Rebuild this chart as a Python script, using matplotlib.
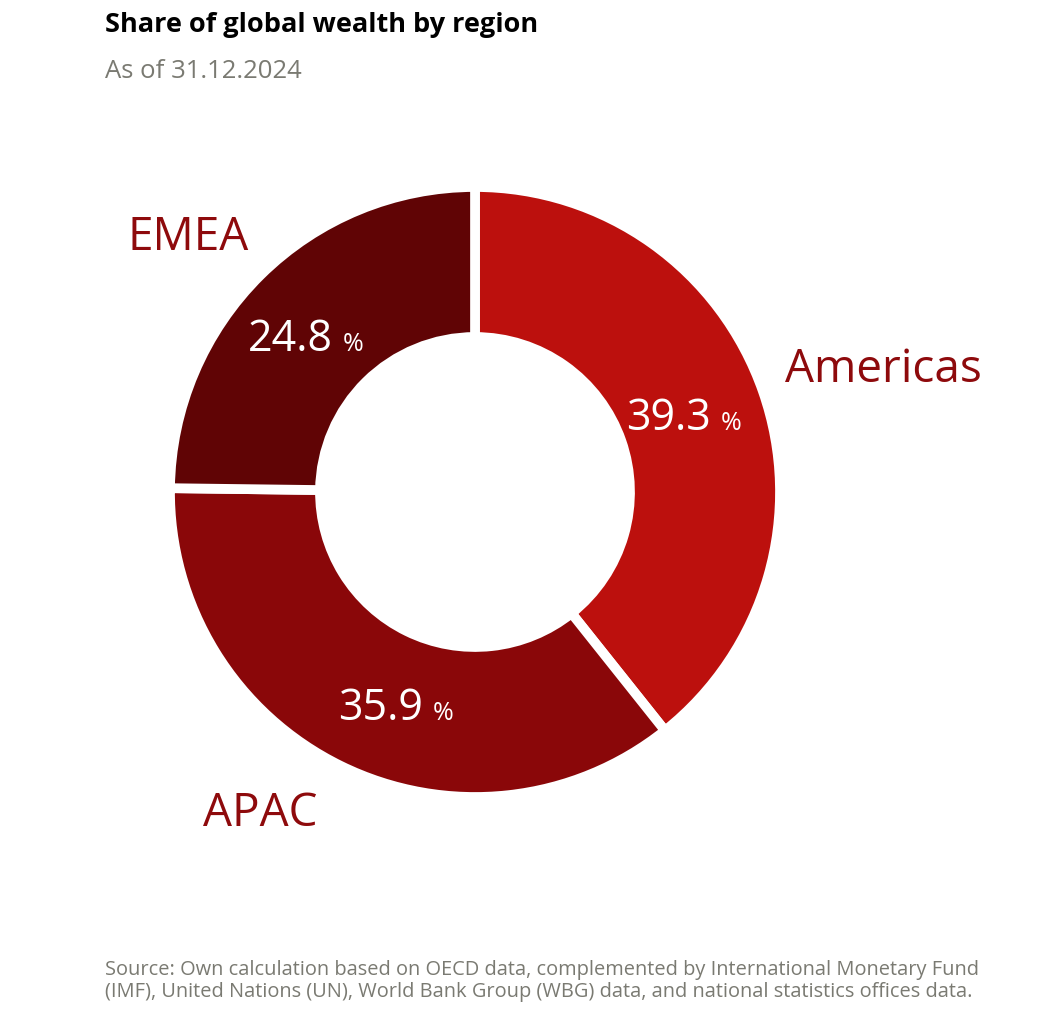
import matplotlib
matplotlib.use("Agg")
import matplotlib.pyplot as plt

regions = ["Americas", "APAC", "EMEA"]
shares = [39.3, 35.9, 24.8]
colors = ["#BC100D", "#8A0709", "#600405"]

W, H = 1062, 1020
fig = plt.figure(figsize=(W/100, H/100), dpi=100)
ax = fig.add_axes([0, 0, 1, 1])

cx, cy, R = 475, H - 493, 305
ax.pie(shares, colors=colors, startangle=90, counterclock=False, center=(cx, cy),
       radius=R, wedgeprops=dict(width=R-155, edgecolor="white", linewidth=7), frame=True)
ax.set_xlim(0, W); ax.set_ylim(0, H); ax.set_aspect("equal"); ax.axis("off")

fam = ["Open Sans", "DejaVu Sans"]
fig.text(105/W, 1-25/H, "Share of global wealth by region", fontsize=19.5, fontweight="bold",
         family=fam, va="center", ha="left")
fig.text(105/W, 1-71/H, "As of 31.12.2024", fontsize=18.5, color="#7a7a72", family=fam, va="center")

lab_col = "#8E0A0C"
label_pos = {"Americas": (785, 370, "left"), "APAC": (203, 814, "left"), "EMEA": (127, 238, "left")}
for r in regions:
    x, y, ha = label_pos[r]
    ax.text(x, H - y, r, fontsize=33, color=lab_col, family=fam, ha=ha, va="center")

pct_pos = {"Americas": (626, 430), "APAC": (338, 720), "EMEA": (248, 351)}
for r, s in zip(regions, shares):
    x, y = pct_pos[r]
    t = ax.text(x, H - y, f"{s}", fontsize=31, color="white", family=fam, ha="left", va="baseline")
    fig.canvas.draw()
    bb = t.get_window_extent()
    ax.text(bb.x1 + 10, H - y, "%", fontsize=18, color="white", family=fam, ha="left", va="baseline")

fig.text(105/W, 1-981/H,
         "Source: Own calculation based on OECD data, complemented by International Monetary Fund\n"
         "(IMF), United Nations (UN), World Bank Group (WBG) data, and national statistics offices data.",
         fontsize=14.4, color="#7a7a72", family=fam, va="center", linespacing=1.15)

fig.savefig("out.png", dpi=100)
